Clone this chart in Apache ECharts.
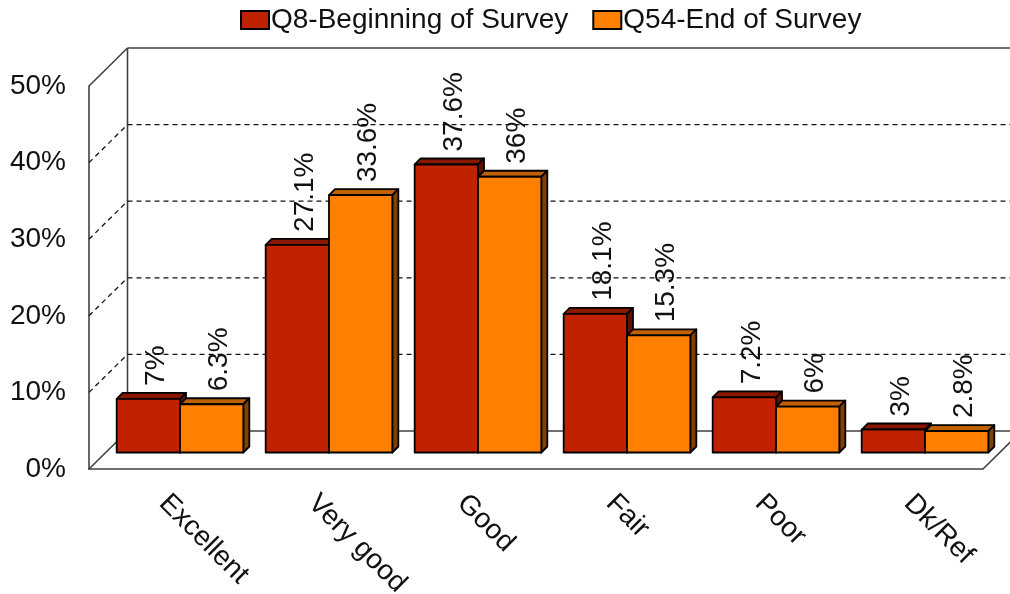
<!DOCTYPE html>
<html><head><meta charset="utf-8">
<style>html,body{margin:0;padding:0;background:#fff}#c{width:1010px;height:594px}</style>
<script src="https://cdn.jsdelivr.net/npm/echarts@6/dist/echarts.min.js"></script>
</head><body><div id="c"></div>
<script>
const categories = ['Excellent','Very good','Good','Fair','Poor','Dk/Ref'];
const q8 = [7,27.1,37.6,18.1,7.2,3];
const q54 = [6.3,33.6,36,15.3,6,2.8];
const ticks = [0,10,20,30,40,50];

const FONT = '"Liberation Sans", Arial, sans-serif';
const FS = 28;
const WALL_DX = 38.5, WALL_DY = 38;
const BAR_OFF = 16.5, DEPTH = 6;
const INK = '#000';
const LINE = '#404040';

function wallItem(params, api) {
  const t = api.value(1);
  const p = api.coord([0, t]);
  const cs = params.coordSys;
  const x0 = cs.x, y = p[1];
  const solid = t === 0 || t === ticks[ticks.length-1];
  const style = solid ? {stroke: LINE, lineWidth: 1.6, fill:null}
                      : {stroke: '#111', lineWidth: 1.3, lineDash:[5,4], fill:null};
  const children = [
    {type:'line', shape:{x1:x0,y1:y,x2:x0+WALL_DX,y2:y-WALL_DY}, style},
    {type:'line', shape:{x1:x0+WALL_DX,y1:y-WALL_DY,x2:1010,y2:y-WALL_DY}, style}
  ];
  if (t === 0) {
    const xr = cs.x + cs.width;
    children.push({type:'line', shape:{x1:xr,y1:y,x2:xr+WALL_DX,y2:y-WALL_DY}, style});
    children.push({type:'line', shape:{x1:x0+WALL_DX,y1:y-WALL_DY,x2:x0+WALL_DX,y2:cs.y-WALL_DY},
      style:{stroke:LINE,lineWidth:1.6,fill:null}});
  }
  return {type:'group', children};
}

function barRenderer(side, front, top, right) {
  return function (params, api) {
    const i = api.value(0), v = api.value(1);
    const c = api.coord([i, v]), b = api.coord([i, 0]);
    const w = api.size([1, 0])[0] * 0.425;
    const cx = c[0] + BAR_OFF;
    const x1 = side < 0 ? cx - w : cx;
    const x2 = x1 + w;
    const yt = c[1] - BAR_OFF, yb = b[1] - BAR_OFF;
    const st = {stroke: INK, lineWidth: 1.8, lineJoin:'round'};
    return {type:'group', children:[
      {type:'polygon', shape:{points:[[x1,yt],[x1+DEPTH,yt-DEPTH],[x2+DEPTH,yt-DEPTH],[x2,yt]]},
        style:Object.assign({fill:top},st)},
      {type:'polygon', shape:{points:[[x2,yt],[x2+DEPTH,yt-DEPTH],[x2+DEPTH,yb-DEPTH],[x2,yb]]},
        style:Object.assign({fill:right},st)},
      {type:'rect', shape:{x:x1,y:yt,width:w,height:yb-yt},
        style:Object.assign({fill:front},st)},
      {type:'text', x:(x1+x2)/2+DEPTH+2, y:yt-DEPTH-7, rotation:Math.PI/2, z2:50,
        style:{text:v+'%', fill:'#111', font:FS+'px '+FONT, align:'left', verticalAlign:'middle'}}
    ]};
  };
}

const chart = echarts.init(document.getElementById('c'), null, {renderer:'canvas'});
chart.setOption({
  animation:false,
  backgroundColor:'#fff',
  grid:{left:89, right:27, top:86, bottom:125, containLabel:false, outerBoundsMode:'none'},
  legend:{
    top:6, left:240, padding:0, itemWidth:28, itemHeight:18, itemGap:24, icon:'rect',
    data:['Q8-Beginning of Survey','Q54-End of Survey'],
    textStyle:{fontFamily:FONT, fontSize:FS, color:'#111', padding:[0,0,0,-3]}
  },
  xAxis:{
    type:'category', data:categories,
    axisLine:{lineStyle:{color:LINE,width:1.6}}, axisTick:{show:false},
    axisLabel:{rotate:-45, align:'left', verticalAlign:'middle', margin:30, interval:0,
      fontFamily:FONT, fontSize:FS, color:'#111'}
  },
  yAxis:{
    type:'value', min:0, max:50, interval:10,
    splitLine:{show:false}, axisTick:{show:false},
    axisLine:{show:true, lineStyle:{color:LINE,width:1.6}},
    axisLabel:{formatter:'{value}%', margin:23, fontFamily:FONT, fontSize:FS, color:'#111'}
  },
  series:[
    {type:'custom', silent:true, clip:false, renderItem:wallItem, z:1,
     legendHoverLink:false, data:ticks.map(t=>[0,t]), encode:{x:0,y:1}},
    {type:'custom', name:'Q8-Beginning of Survey', clip:false, z:2,
     itemStyle:{color:'#C02200', borderColor:'#000', borderWidth:1.8},
     renderItem:barRenderer(-1,'#C02200','#8A1800','#601000'),
     data:q8.map((v,i)=>[i,v]), encode:{x:0,y:1}},
    {type:'custom', name:'Q54-End of Survey', clip:false, z:3,
     itemStyle:{color:'#FF8000', borderColor:'#000', borderWidth:1.8},
     renderItem:barRenderer(1,'#FF8000','#C06000','#804000'),
     data:q54.map((v,i)=>[i,v]), encode:{x:0,y:1}}
  ]
});
</script></body></html>
